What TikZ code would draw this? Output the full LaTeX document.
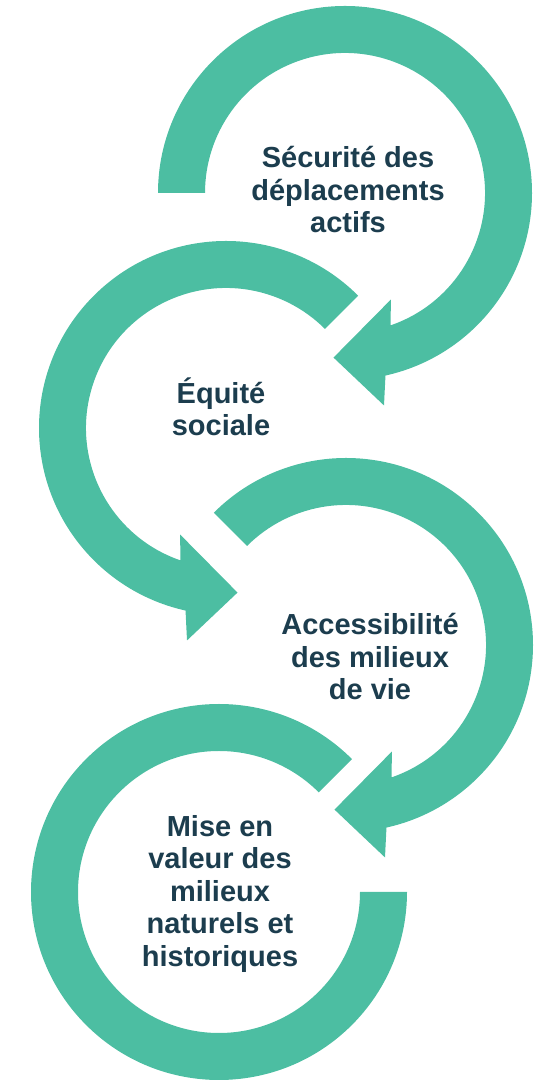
\documentclass[tikz,border=0pt]{standalone}
\usepackage{fontspec}
\setmainfont{Liberation Sans}
\usetikzlibrary{calc}

\definecolor{ringteal}{RGB}{76,190,162}
\definecolor{labelnavy}{RGB}{28,61,78}

\tikzset{
  ringfill/.style={fill=ringteal},
  ringlabel/.style={align=center, inner sep=0pt, text=labelnavy,
    font=\fontsize{16.5}{18.5}\selectfont\bfseries}
}

\begin{document}
\begin{tikzpicture}[x=0.02cm,y=0.02cm]
\useasboundingbox (0,0) rectangle (536,1081);

\coordinate (sec) at (345,888);
\coordinate (equ) at (226,653);
\coordinate (acc) at (346,436);
\coordinate (mis) at (219,189);

% right-hand rings, clockwise, head at the bottom
\foreach \c/\s in {sec/180, acc/135} {
\fill[ringfill] (\c) ++(\s:187) arc[start angle=\s, end angle=-77.5, radius=187] -- ($(\c)+(-79.6:216)$) -- ($(\c)+(-94:165)$) -- ($(\c)+(-66.7:116)$) -- ($(\c)+(-71:140)$) arc[start angle=-71, end angle=\s, radius=140] -- cycle;
}

% left-hand rings, counter-clockwise
\fill[ringfill] (equ) ++(45:187) arc[start angle=45, end angle=257.5, radius=187] -- ($(equ)+(259.6:216)$) -- ($(equ)+(274:165)$) -- ($(equ)+(246.7:116)$) -- ($(equ)+(251:140)$) arc[start angle=251, end angle=45, radius=140] -- cycle;
\fill[ringfill] (mis) ++(45:188) arc[start angle=45, end angle=360, radius=188] -- ++(-47,0) arc[start angle=360, end angle=45, radius=141] -- cycle;

\node[ringlabel] (seclabel) at (348,891) {Sécurité des\\déplacements\\actifs};
\node[ringlabel] (equlabel) at (221,674) {Équité\\sociale};
\node[ringlabel] (acclabel) at (370,424) {Accessibilité\\des milieux\\de vie};
\node[ringlabel] (mislabel) at (220,187) {Mise en\\valeur des\\milieux\\naturels et\\historiques};
\end{tikzpicture}
\end{document}
